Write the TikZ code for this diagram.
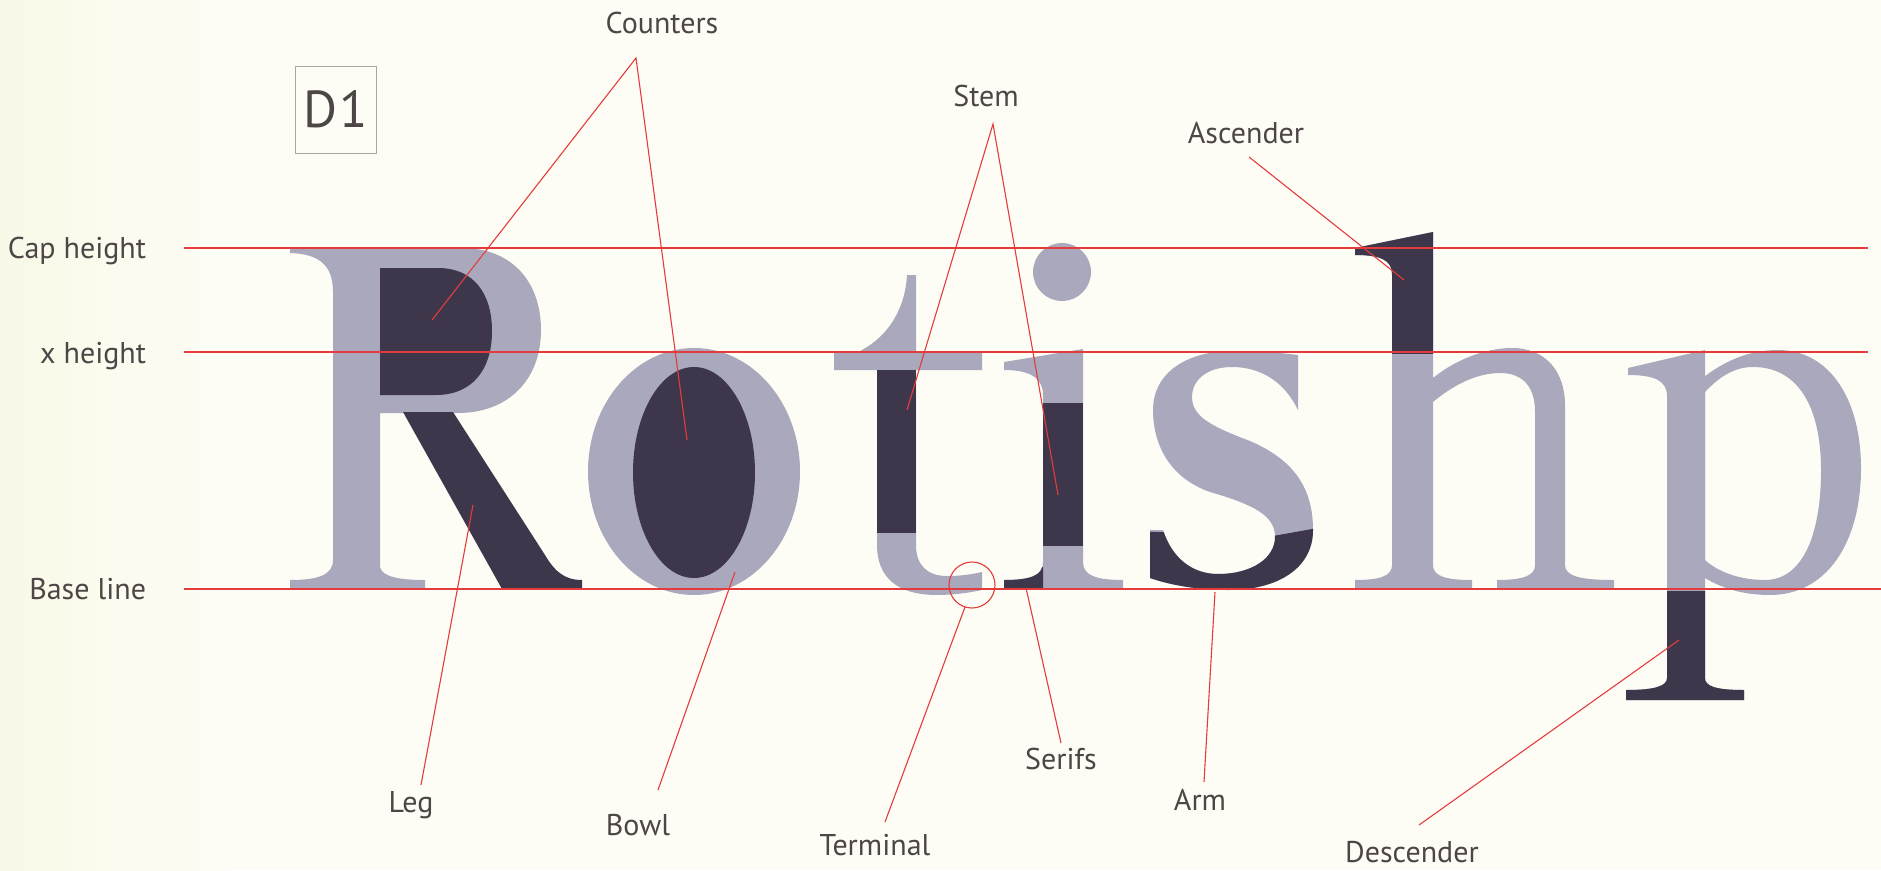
\documentclass[tikz,border=0pt]{standalone}
\usepackage{fontspec}
\setmainfont{PT Sans}
\definecolor{bg}{HTML}{FDFDF6}
\definecolor{bgleft}{HTML}{F9F9E8}
\definecolor{letter}{HTML}{A9A8BC}
\definecolor{ink}{HTML}{3E374B}
\definecolor{redline}{HTML}{E43C3C}
\definecolor{labeltext}{HTML}{4E4646}
\tikzset{
  lbl/.style={anchor=base, inner sep=0pt, outer sep=0pt, text=labeltext, font=\fontsize{30}{30}\selectfont},
  guide/.style={draw=redline, line width=1.2pt},
  lead/.style={draw=redline, line width=1.1pt},
  lightpart/.style={fill=letter},
  darkpart/.style={fill=ink}
}
\newcommand{\ShapeI}[1]{\fill[#1] (1004,362) -- (1083,349) -- (1083,562) .. controls (1083,575) and (1095,580) .. (1123,580) -- (1123,589) -- (1004,589) -- (1004,580) .. controls (1032,580) and (1043,575) .. (1043,562) -- (1043,395) .. controls (1043,378) and (1030,370) .. (1004,370) -- cycle;}
\newcommand{\ShapeS}[1]{\fill[#1] (1298,355) -- (1298,410) .. controls (1285,383) and (1262,367) .. (1232,367) .. controls (1207,367) and (1192,380) .. (1192,397) .. controls (1192,416) and (1210,426) .. (1250,441) .. controls (1294,460) and (1313,488) .. (1313,530) .. controls (1313,568) and (1278,590) .. (1228,590) .. controls (1198,590) and (1170,585) .. (1150,578) -- (1150,530) -- (1163,530) .. controls (1172,558) and (1192,574) .. (1218,574) .. controls (1252,574) and (1275,558) .. (1275,537) .. controls (1275,516) and (1255,505) .. (1210,492) .. controls (1170,478) and (1153,445) .. (1153,410) .. controls (1153,372) and (1188,351) .. (1232,351) .. controls (1260,351) and (1282,353) .. (1298,355) -- cycle;}
\newcommand{\ShapeH}[1]{\fill[#1] (1355,248) -- (1433,232) -- (1433,378) .. controls (1455,360) and (1485,348) .. (1512,348) .. controls (1546,348) and (1565,372) .. (1565,405) -- (1565,565) .. controls (1565,576) and (1580,580) .. (1614,580) -- (1614,589) -- (1497,589) -- (1497,580) .. controls (1525,580) and (1535,575) .. (1535,565) -- (1535,412) .. controls (1535,387) and (1523,373) .. (1500,373) .. controls (1476,373) and (1452,386) .. (1433,402) -- (1433,565) .. controls (1433,576) and (1445,580) .. (1472,580) -- (1472,589) -- (1355,589) -- (1355,580) .. controls (1380,580) and (1392,576) .. (1392,565) -- (1392,274) .. controls (1392,260) and (1380,255) .. (1355,255) -- cycle;}
\newcommand{\ShapePstem}[1]{\fill[#1] (1628,368) -- (1705,350) -- (1705,678) .. controls (1705,686) and (1715,690) .. (1744,690) -- (1744,700) -- (1626,700) -- (1626,690) .. controls (1655,690) and (1667,686) .. (1667,678) -- (1667,396) .. controls (1667,381) and (1655,375) .. (1628,375) -- cycle;}
\begin{document}
\begin{tikzpicture}[x=1pt,y=-1pt]
\fill[bg] (0,0) rectangle (1881,870);
\shade[left color=bgleft, right color=bg] (0,0) rectangle (230,870);
\useasboundingbox (0,0) rectangle (1881,870);
% ---------- R ----------
\fill[lightpart] (290,248) -- (380,248) -- (380,567) .. controls (382,577) and (400,580) .. (425,580) -- (425,589) -- (290,589) -- (290,580) .. controls (318,580) and (333,575) .. (333,560) -- (333,292) .. controls (333,264) and (318,254) .. (290,253) -- cycle;
\fill[lightpart] (375,248) -- (462,248) .. controls (512,248) and (541,282) .. (541,330) .. controls (541,380) and (508,413) .. (458,413) -- (375,413) -- cycle;
\fill[darkpart] (380,268) -- (438,268) .. controls (474,268) and (492,294) .. (492,331) .. controls (492,370) and (472,395) .. (436,395) -- (380,395) -- cycle;
\fill[darkpart] (403,412) -- (453,412) -- (545,555) .. controls (555,572) and (565,580) .. (582,580) -- (582,589) -- (502,589) -- cycle;
% ---------- o ----------
\fill[lightpart] (694,471.5) ellipse [x radius=106, y radius=123.5];
\fill[darkpart] (694,472.5) ellipse [x radius=61, y radius=105.5];
% ---------- t ----------
\fill[lightpart] (907,275) -- (916,275) -- (916,353) -- (982,353) -- (982,370) -- (916,370) -- (916,545) .. controls (916,566) and (928,576) .. (947,576) .. controls (962,576) and (973,574) .. (982,572) -- (982,590) .. controls (968,593) and (952,595) .. (937,595) .. controls (898,595) and (877,578) .. (877,545) -- (877,370) -- (834,370) -- (834,353) -- (856,353) .. controls (885,340) and (905,312) .. (907,275) -- cycle;
\fill[darkpart] (877,370) rectangle (916,533);
% ---------- i ----------
\ShapeI{lightpart}
\fill[lightpart] (1062,272) circle (29);
\fill[darkpart] (1043,403) rectangle (1083,546);
\begin{scope}
  \clip (1000,567) rectangle (1043,592);
  \ShapeI{darkpart}
\end{scope}
% ---------- s ----------
\ShapeS{lightpart}
\begin{scope}
  \clip (1100,530) -- (1273,536) -- (1340,524) -- (1340,620) -- (1100,620) -- cycle;
  \ShapeS{darkpart}
\end{scope}
% ---------- h ----------
\ShapeH{lightpart}
\begin{scope}
  \clip (1340,200) rectangle (1450,353);
  \ShapeH{darkpart}
\end{scope}
% ---------- p ----------
\ShapePstem{lightpart}
\fill[lightpart, even odd rule] (1700,380) .. controls (1725,360) and (1750,350) .. (1778,350) .. controls (1830,350) and (1861,400) .. (1861,468) .. controls (1861,545) and (1825,595) .. (1770,595) .. controls (1742,595) and (1720,588) .. (1700,575) -- cycle
  (1705,392) .. controls (1720,376) and (1735,367) .. (1753,367) .. controls (1800,367) and (1821,410) .. (1821,470) .. controls (1821,540) and (1800,580) .. (1765,580) .. controls (1740,580) and (1718,572) .. (1705,560) -- cycle;
\begin{scope}
  \clip (1600,591) rectangle (1705.5,710) (1705,600) rectangle (1760,710);
  \ShapePstem{darkpart}
\end{scope}
% ---------- guide lines ----------
\coordinate (capL) at (184,248); \coordinate (capR) at (1868,248);
\coordinate (xhL) at (184,352); \coordinate (xhR) at (1868,352);
\coordinate (baseL) at (184,589); \coordinate (baseR) at (1881,589);
\draw[guide] (capL) -- (capR);
\draw[guide] (xhL) -- (xhR);
\draw[guide] (baseL) -- (baseR);
% ---------- labels ----------
\node[lbl, anchor=base east] (lcap) at (146,258) {Cap height};
\node[lbl, anchor=base east] (lxh) at (146,363) {x height};
\node[lbl, anchor=base east] (lbase) at (146,599) {Base line};
\node[draw=gray!70, line width=0.8pt, minimum width=81pt, minimum height=87pt, inner sep=0pt, text=labeltext, font=\fontsize{52}{52}\selectfont] (d1) at (335.5,109.5) {D\kern2pt 1};
\node[lbl] (lcounters) at (662,33) {Counters};
\node[lbl] (lstem) at (986,106) {Stem};
\node[lbl] (lasc) at (1246,143) {Ascender};
\node[lbl] (lleg) at (411,812) {Leg};
\node[lbl] (lbowl) at (638,835) {Bowl};
\node[lbl] (lterm) at (875,855) {Terminal};
\node[lbl] (lserifs) at (1061,769) {Serifs};
\node[lbl] (larm) at (1200,810) {Arm};
\node[lbl] (ldesc) at (1412,862) {Descender};
% ---------- leader lines ----------
\coordinate (cntA) at (636,58); \coordinate (cntR) at (432,320); \coordinate (cntO) at (687,440);
\coordinate (stA) at (993,124); \coordinate (stT) at (907,410); \coordinate (stI) at (1058,495);
\coordinate (ascA) at (1249,157); \coordinate (ascB) at (1404,280);
\coordinate (legA) at (421,785); \coordinate (legB) at (473,505);
\coordinate (bowlA) at (658,790); \coordinate (bowlB) at (735,572);
\coordinate (termA) at (885,822); \coordinate (termB) at (965,607);
\coordinate (serA) at (1061,743); \coordinate (serB) at (1026,588);
\coordinate (armA) at (1204,782); \coordinate (armB) at (1215,592);
\coordinate (descA) at (1419,825); \coordinate (descB) at (1679,640);
\coordinate (termC) at (972,585);
\draw[lead] (cntR) -- (cntA) -- (cntO);
\draw[lead] (stT) -- (stA) -- (stI);
\draw[lead] (ascA) -- (ascB);
\draw[lead] (legA) -- (legB);
\draw[lead] (bowlA) -- (bowlB);
\draw[lead] (termA) -- (termB);
\draw[lead] (termC) circle (23);
\draw[lead] (serA) -- (serB);
\draw[lead] (armA) -- (armB);
\draw[lead] (descA) -- (descB);
\end{tikzpicture}
\end{document}
